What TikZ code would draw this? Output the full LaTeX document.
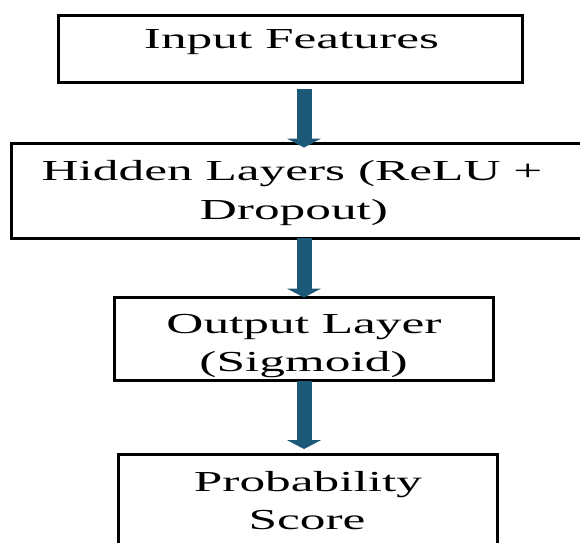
\documentclass[tikz,border=0pt]{standalone}
\usepackage{fontspec}
\setmainfont{Liberation Serif}[FakeStretch=1.77]
\usetikzlibrary{arrows.meta}
\definecolor{flowblue}{HTML}{1C5878}
\begin{document}
\begin{tikzpicture}[x=1pt,y=-1pt,
  box/.style={draw=black,line width=3pt,fill=white,inner sep=0pt,outer sep=0pt},
  lbl/.style={anchor=base,inner sep=0pt,font=\fontsize{29}{38.5}\selectfont},
  flow/.style={draw=flowblue,line width=15pt,-{Triangle[width=34pt,length=9pt]}}]
\useasboundingbox (0,0) rectangle (580,542);
\clip (0,0) rectangle (580,542);
\fill[white] (0,0) rectangle (580,542);
% boxes
\node[box,minimum width=463.5pt,minimum height=66.5pt] (box1) at (290.25,48.75) {};
\node[box,minimum width=588.5pt,minimum height=94.5pt] (box2) at (305.75,190.75) {};
\node[box,minimum width=379pt,minimum height=83pt] (box3) at (303.5,339) {};
\node[box,minimum width=379pt,minimum height=166pt] (box4) at (307.5,537) {};
% texts
\node[lbl] (t1) at (291.5,48.5) {Input Features};
\node[lbl] (t2a) at (292,180) {Hidden Layers (ReLU +};
\node[lbl] (t2b) at (294,219) {Dropout)};
\node[lbl] (t3a) at (304,333) {Output Layer};
\node[lbl] (t3b) at (303.5,371) {(Sigmoid)};
\node[lbl] (t4a) at (308,491) {Probability};
\node[lbl] (t4b) at (307,529) {Score};
% arrows
\coordinate (ax) at (304,0);
\coordinate (a1top) at (304,89);
\coordinate (a1tip) at (304,147.5);
\coordinate (a3tip) at (304,449);
\draw[flow] (a1top) -- (a1tip);
\draw[flow] (box2.south -| ax) -- (box3.north -| ax);
\draw[flow] (box3.south -| ax) -- (a3tip);
\end{tikzpicture}
\end{document}
